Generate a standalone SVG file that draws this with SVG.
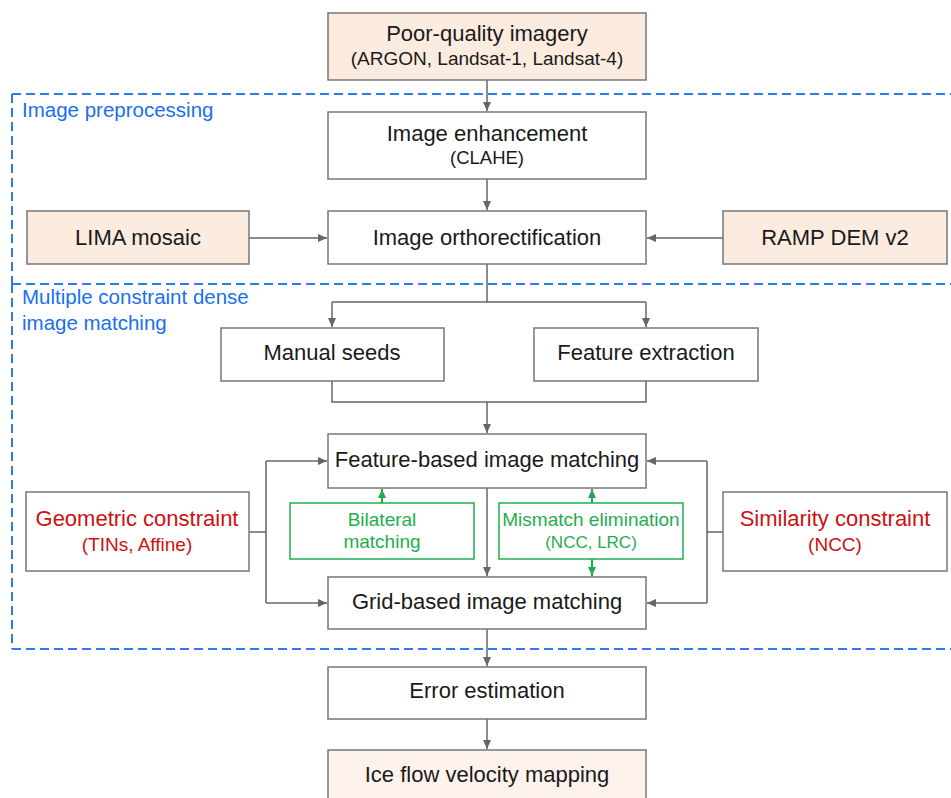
<svg xmlns="http://www.w3.org/2000/svg" width="951" height="798" viewBox="0 0 951 798">
  <style>
    text { font-family: "Liberation Sans", Arial, sans-serif; text-anchor: middle; fill: #1a1a1a; }
    .main { font-size: 22px; }
    .sub { font-size: 19px; }
    .box { fill: #ffffff; stroke: #777777; stroke-width: 1.5; }
    .src { fill: #fcebdf; stroke: #777777; stroke-width: 1.5; }
    .out { fill: #fdf3ec; stroke: #777777; stroke-width: 1.5; }
    .gbox { fill: #ffffff; stroke: #1fae4f; stroke-width: 1.5; }
    .red { fill: #cc1111; }
    .green { fill: #1fae4f; }
    .region { fill: #1a6ff0; font-size: 20.5px; text-anchor: start; }
    .dash { stroke: #2b7cf0; stroke-width: 2; stroke-dasharray: 9 5; fill: none; }
    .conn { stroke: #666666; stroke-width: 1.5; fill: none; }
    .gconn { stroke: #1fae4f; stroke-width: 2; fill: none; }
  </style>
  <defs>
    <marker id="arr" markerWidth="10" markerHeight="10" refX="9" refY="5" orient="auto" markerUnits="userSpaceOnUse">
      <path d="M0,1 L9,5 L0,9 Z" fill="#666666"/>
    </marker>
    <marker id="garr" markerWidth="10" markerHeight="10" refX="9" refY="5" orient="auto" markerUnits="userSpaceOnUse">
      <path d="M0,1 L9,5 L0,9 Z" fill="#1fae4f"/>
    </marker>
  </defs>

  <!-- dashed stage frames -->
  <g id="frames">
    <line class="dash" x1="12" y1="94" x2="955" y2="94"/>
    <line class="dash" x1="12" y1="284" x2="955" y2="284"/>
    <line class="dash" x1="12" y1="649" x2="955" y2="649"/>
    <line class="dash" x1="12" y1="94" x2="12" y2="284"/>
    <line class="dash" x1="12" y1="284" x2="12" y2="649"/>
    <text class="region" x="22" y="117">Image preprocessing</text>
    <text class="region" x="22" y="304">Multiple constraint dense</text>
    <text class="region" x="22" y="330">image matching</text>
  </g>

  <!-- connectors -->
  <g id="connectors">
    <line class="conn" x1="487" y1="80" x2="487" y2="111" marker-end="url(#arr)"/>
    <line class="conn" x1="487" y1="179" x2="487" y2="210" marker-end="url(#arr)"/>
    <line class="conn" x1="249" y1="238" x2="327" y2="238" marker-end="url(#arr)"/>
    <line class="conn" x1="723" y1="238" x2="647" y2="238" marker-end="url(#arr)"/>
    <path class="conn" d="M487,264 V302 M332,302 H646"/>
    <line class="conn" x1="332" y1="302" x2="332" y2="327" marker-end="url(#arr)"/>
    <line class="conn" x1="646" y1="302" x2="646" y2="327" marker-end="url(#arr)"/>
    <path class="conn" d="M332,381 V402 H646 V381"/>
    <line class="conn" x1="487" y1="402" x2="487" y2="433" marker-end="url(#arr)"/>
    <line class="conn" x1="487" y1="488" x2="487" y2="576" marker-end="url(#arr)"/>
    <path class="conn" d="M249,532 H266 M266,461 V603"/>
    <line class="conn" x1="266" y1="461" x2="327" y2="461" marker-end="url(#arr)"/>
    <line class="conn" x1="266" y1="603" x2="327" y2="603" marker-end="url(#arr)"/>
    <path class="conn" d="M723,532 H707 M707,461 V603"/>
    <line class="conn" x1="707" y1="461" x2="647" y2="461" marker-end="url(#arr)"/>
    <line class="conn" x1="707" y1="603" x2="647" y2="603" marker-end="url(#arr)"/>
    <line class="gconn" x1="382" y1="503" x2="382" y2="489" marker-end="url(#garr)"/>
    <line class="gconn" x1="592" y1="503" x2="592" y2="489" marker-end="url(#garr)"/>
    <line class="gconn" x1="592" y1="559" x2="592" y2="576" marker-end="url(#garr)"/>
    <line class="conn" x1="487" y1="629" x2="487" y2="666" marker-end="url(#arr)"/>
    <line class="conn" x1="487" y1="719" x2="487" y2="749" marker-end="url(#arr)"/>
  </g>

  <g id="poor-quality">
    <rect class="src" x="328" y="13" width="318" height="67"/>
    <text class="main" x="487" y="41">Poor-quality imagery</text>
    <text class="sub" x="487" y="65">(ARGON, Landsat-1, Landsat-4)</text>
  </g>
  <g id="enhancement">
    <rect class="box" x="328" y="112" width="318" height="67"/>
    <text class="main" x="487" y="141">Image enhancement</text>
    <text class="sub" x="487" y="164" style="font-size:18.5px">(CLAHE)</text>
  </g>
  <g id="lima">
    <rect class="src" x="27" y="211" width="222" height="53"/>
    <text class="main" x="138" y="245">LIMA mosaic</text>
  </g>
  <g id="ortho">
    <rect class="box" x="328" y="211" width="318" height="53"/>
    <text class="main" x="487" y="245">Image orthorectification</text>
  </g>
  <g id="ramp">
    <rect class="src" x="723" y="211" width="224" height="53"/>
    <text class="main" x="835" y="245">RAMP DEM v2</text>
  </g>
  <g id="manual-seeds">
    <rect class="box" x="221" y="328" width="223" height="53"/>
    <text class="main" x="332" y="360">Manual seeds</text>
  </g>
  <g id="feature-extraction">
    <rect class="box" x="534" y="328" width="224" height="53"/>
    <text class="main" x="646" y="360">Feature extraction</text>
  </g>
  <g id="feature-matching">
    <rect class="box" x="328" y="434" width="318" height="54"/>
    <text class="main" x="487" y="467">Feature-based image matching</text>
  </g>
  <g id="geometric">
    <rect class="box" x="26" y="492" width="223" height="79"/>
    <text class="main red" x="137" y="526">Geometric constraint</text>
    <text class="sub red" x="137" y="551">(TINs, Affine)</text>
  </g>
  <g id="bilateral">
    <rect class="gbox" x="290" y="503" width="184" height="56"/>
    <text class="sub green" x="382" y="526">Bilateral</text>
    <text class="sub green" x="382" y="548">matching</text>
  </g>
  <g id="mismatch">
    <rect class="gbox" x="499" y="503" width="184" height="56"/>
    <text class="sub green" x="591" y="526">Mismatch elimination</text>
    <text class="green" x="591" y="548" style="font-size:17px">(NCC, LRC)</text>
  </g>
  <g id="similarity">
    <rect class="box" x="723" y="492" width="224" height="79"/>
    <text class="main red" x="835" y="526">Similarity constraint</text>
    <text class="sub red" x="835" y="551">(NCC)</text>
  </g>
  <g id="grid-matching">
    <rect class="box" x="328" y="577" width="318" height="52"/>
    <text class="main" x="487" y="609">Grid-based image matching</text>
  </g>
  <g id="error">
    <rect class="box" x="328" y="667" width="318" height="52"/>
    <text class="main" x="487" y="698">Error estimation</text>
  </g>
  <g id="velocity">
    <rect class="out" x="328" y="750" width="318" height="60"/>
    <text class="main" x="487" y="782">Ice flow velocity mapping</text>
  </g>
</svg>
